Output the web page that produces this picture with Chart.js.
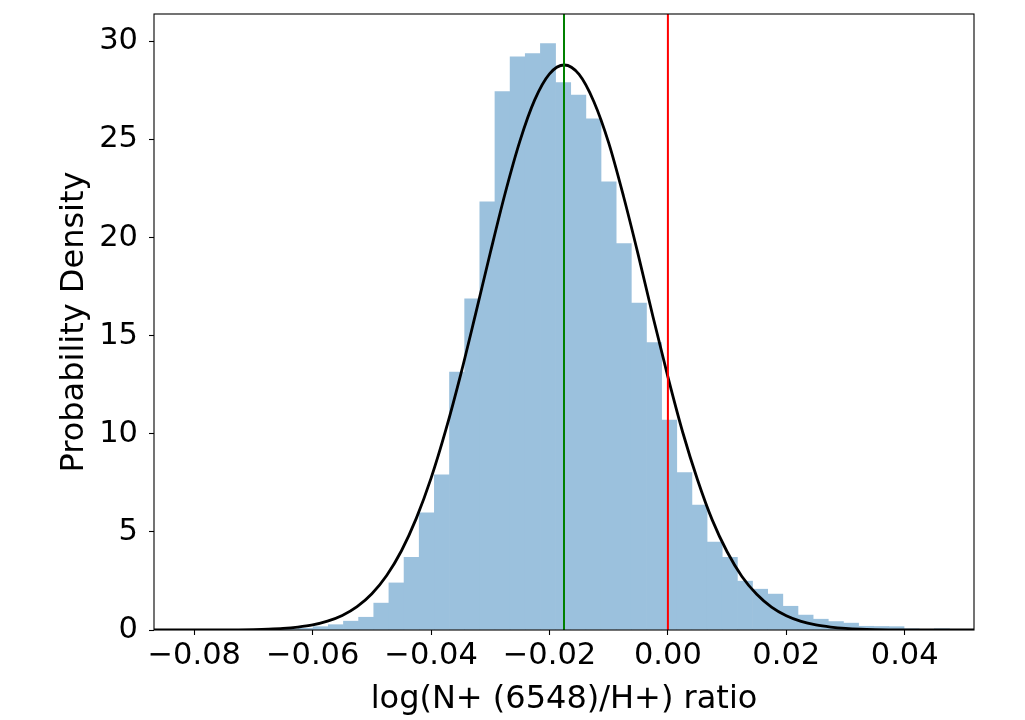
<!DOCTYPE html>
<html>
<head>
<meta charset="utf-8">
<script src="https://cdn.jsdelivr.net/npm/chart.js@4.4.1/dist/chart.umd.min.js"></script>
<style>
  html, body { margin: 0; padding: 0; background: #fff; }
  #wrap { width: 1025px; height: 720px; }
</style>
</head>
<body>
<div id="wrap"><canvas id="histChart" width="1025" height="720"></canvas></div>
<script>
// histogram bins (density)
const binStart = -0.08039;
const binWidth = 0.002559;
const binHeights = [
    0.01, 0.00, 0.01, 0.01, 0.02, 0.03, 0.05, 0.09, 0.17, 0.27,
    0.45, 0.65, 1.37, 2.40, 3.71, 5.97, 7.91, 13.15, 16.88, 21.83,
    27.44, 29.22, 29.38, 29.89, 27.91, 27.27, 26.06, 22.85, 19.70, 16.67,
    14.65, 10.70, 8.02, 6.37, 4.48, 3.71, 2.49, 2.08, 1.83, 1.21,
    0.76, 0.55, 0.43, 0.35, 0.19, 0.18, 0.17, 0.06, 0.03, 0.06
];

// fitted curve
const curveX = [
    -0.0875, -0.0850, -0.0825, -0.0800, -0.0775, -0.0750, -0.0725, -0.0700, -0.0675, -0.0650,
    -0.0625, -0.0600, -0.0575, -0.0550, -0.0525, -0.0500, -0.0475, -0.0450, -0.0425, -0.0400,
    -0.0375, -0.0350, -0.0325, -0.0300, -0.0275, -0.0250, -0.0225, -0.0200, -0.0175, -0.0150,
    -0.0125, -0.0100, -0.0075, -0.0050, -0.0025, 0.0000, 0.0025, 0.0050, 0.0075, 0.0100,
    0.0125, 0.0150, 0.0175, 0.0200, 0.0225, 0.0250, 0.0275, 0.0300, 0.0325, 0.0350,
    0.0375, 0.0400, 0.0425, 0.0450, 0.0475, 0.0500, 0.0525
];
const curveY = [
    0.000, 0.000, 0.000, 0.001, 0.002, 0.005, 0.011, 0.022, 0.043, 0.08,
    0.15, 0.26, 0.45, 0.74, 1.19, 1.85, 2.78, 4.04, 5.69, 7.74,
    10.21, 13.02, 16.09, 19.23, 22.25, 24.92, 27.02, 28.35, 28.80, 28.32,
    26.93, 24.83, 22.11, 19.11, 15.94, 12.90, 10.08, 7.66, 5.60, 3.99,
    2.73, 1.82, 1.17, 0.73, 0.44, 0.26, 0.15, 0.08, 0.04, 0.02,
    0.01, 0.005, 0.002, 0.001, 0.000, 0.000, 0.000
];

// reference lines
const greenLineX = -0.01755;
const redLineX = 0.0;

// axes
const xMin = -0.0868;
const xMax = 0.0517;
const yMin = 0;
const yMax = 31.4;
const xTicks = [-0.08, -0.06, -0.04, -0.02, 0.00, 0.02, 0.04];
const yTicks = [0, 5, 10, 15, 20, 25, 30];
const xTitle = 'log(N+ (6548)/H+) ratio';
const yTitle = 'Probability Density';

const FONT = 'DejaVu Sans';

function minusSign(s) {
    return s.replace('-', '\u2212');
}

const barPoints = binHeights.map((h, i) => ({ x: binStart + (i + 0.5) * binWidth, y: h }));
const curvePoints = curveX.map((x, i) => ({ x: x, y: curveY[i] }));

const frame = {
    id: 'frame',
    afterDraw(chart) {
        const { ctx, chartArea: a } = chart;
        ctx.save();
        ctx.strokeStyle = '#000';
        ctx.lineWidth = 1.1;
        ctx.strokeRect(a.left, a.top, a.right - a.left, a.bottom - a.top);
        ctx.restore();
    }
};

new Chart(document.getElementById('histChart').getContext('2d'), {
    type: 'bar',
    data: {
        datasets: [
            {
                type: 'line',
                data: [{ x: redLineX, y: yMin }, { x: redLineX, y: yMax }],
                borderColor: '#ff0000',
                borderWidth: 2,
                pointRadius: 0,
                order: 0
            },
            {
                type: 'line',
                data: [{ x: greenLineX, y: yMin }, { x: greenLineX, y: yMax }],
                borderColor: '#008000',
                borderWidth: 2,
                pointRadius: 0,
                order: 1
            },
            {
                type: 'line',
                data: curvePoints,
                borderColor: '#000000',
                borderWidth: 2.8,
                pointRadius: 0,
                cubicInterpolationMode: 'monotone',
                order: 2
            },
            {
                type: 'bar',
                data: barPoints,
                backgroundColor: 'rgb(155, 193, 221)',
                borderWidth: 0,
                barPercentage: 1.0,
                categoryPercentage: 1.0,
                order: 3
            }
        ]
    },
    options: {
        responsive: false,
        animation: false,
        devicePixelRatio: 1,
        layout: { padding: { left: 0, top: 14, right: 51, bottom: 0 } },
        plugins: { legend: { display: false }, tooltip: { enabled: false } },
        scales: {
            x: {
                type: 'linear',
                min: xMin,
                max: xMax,
                offset: false,
                afterBuildTicks: (s) => { s.ticks = xTicks.map(v => ({ value: v })); },
                afterFit: (s) => { s.height = 90; s.paddingLeft = 0; s.paddingRight = 0; },
                grid: {
                    display: true, drawOnChartArea: false, drawTicks: true, offset: false,
                    tickLength: 5, tickWidth: 1.1, tickColor: '#000'
                },
                border: { display: false },
                ticks: {
                    color: '#000',
                    font: { family: FONT, size: 30.5 },
                    padding: 3,
                    maxRotation: 0,
                    autoSkip: false,
                    callback: (v) => minusSign(Number(v).toFixed(2))
                },
                title: {
                    display: true,
                    text: xTitle,
                    color: '#000',
                    font: { family: FONT, size: 32 },
                    padding: { top: 0, bottom: 1 }
                }
            },
            y: {
                type: 'linear',
                min: yMin,
                max: yMax,
                afterBuildTicks: (s) => { s.ticks = yTicks.map(v => ({ value: v })); },
                afterFit: (s) => { s.width = 154; s.paddingTop = 0; s.paddingBottom = 0; },
                grid: {
                    display: true, drawOnChartArea: false, drawTicks: true,
                    tickLength: 5, tickWidth: 1.1, tickColor: '#000'
                },
                border: { display: false },
                ticks: {
                    color: '#000',
                    font: { family: FONT, size: 30.5 },
                    padding: 11,
                    autoSkip: false,
                    callback: (v) => String(v)
                },
                title: {
                    display: true,
                    text: yTitle,
                    color: '#000',
                    font: { family: FONT, size: 32 },
                    padding: { top: 55, bottom: 0 }
                }
            }
        }
    },
    plugins: [frame]
});
</script>
</body>
</html>
